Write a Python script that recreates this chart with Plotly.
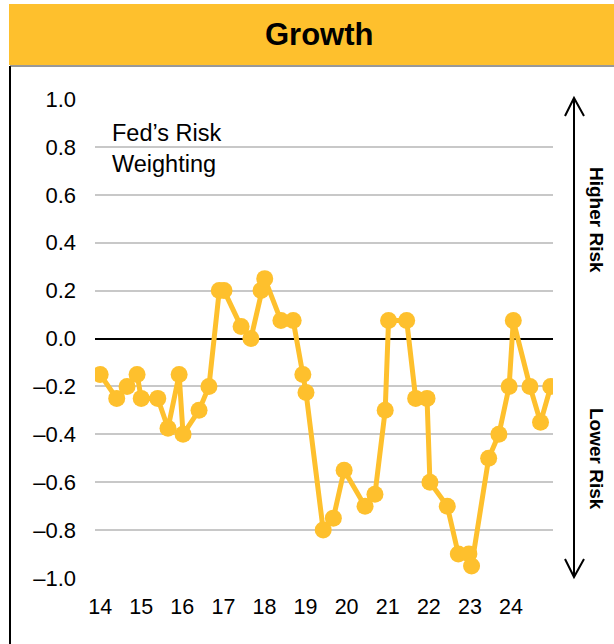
import plotly.graph_objects as go

# Fed's risk weighting on growth, by meeting date
dates = [
    "2014-01-01", "2014-05-28", "2014-08-28", "2014-11-25", "2015-01-01",
    "2015-05-28", "2015-08-27", "2015-12-04", "2016-01-08", "2016-05-29",
    "2016-08-25", "2016-11-25", "2017-01-06", "2017-06-07", "2017-09-02",
    "2017-12-01", "2018-01-03", "2018-05-27", "2018-09-13", "2018-12-08",
    "2019-01-05", "2019-06-07", "2019-09-05", "2019-12-10", "2020-06-13",
    "2020-09-09", "2020-12-09", "2021-01-08", "2021-06-18", "2021-09-06",
    "2021-12-16", "2022-01-11", "2022-06-14", "2022-09-20", "2022-12-23",
    "2023-01-16", "2023-06-17", "2023-09-16", "2023-12-16", "2024-01-22",
    "2024-06-18", "2024-09-20", "2024-12-20",
]
risk_weighting = [
    -0.15, -0.25, -0.20, -0.15, -0.25,
    -0.25, -0.375, -0.15, -0.40, -0.30,
    -0.20, 0.20, 0.20, 0.05, 0.00,
    0.20, 0.25, 0.075, 0.075, -0.15,
    -0.225, -0.80, -0.75, -0.55, -0.70,
    -0.65, -0.30, 0.075, 0.075, -0.25,
    -0.25, -0.60, -0.70, -0.90, -0.90,
    -0.95, -0.50, -0.40, -0.20, 0.075,
    -0.20, -0.35, -0.20,
]
year_ticks = [f"{y}-01-01" for y in range(2014, 2025)]
year_labels = [str(y)[2:] for y in range(2014, 2025)]
y_ticks = [-1.0, -0.8, -0.6, -0.4, -0.2, 0.0, 0.2, 0.4, 0.6, 0.8, 1.0]
# en dash for negatives, one decimal place
y_labels = [f"{v:.1f}".replace("-", "–") for v in y_ticks]

GOLD = "#FEC02D"
FONT = "Liberation Sans, Arial, sans-serif"

W, H = 614, 644
L, R, T, B = 95, 61, 99, 66
PW, PH = W - L - R, H - T - B


def px(x):
    return (x - L) / PW


def py(y):
    return (H - B - y) / PH


fig = go.Figure()
fig.add_trace(go.Scatter(
    x=dates, y=risk_weighting, mode="lines+markers",
    line=dict(color=GOLD, width=5),
    marker=dict(color=GOLD, size=17),
    hoverinfo="x+y", showlegend=False,
))

shapes = [
    # header band
    dict(type="rect", xref="paper", yref="paper", x0=px(9), x1=px(614),
         y0=py(65), y1=py(4), fillcolor=GOLD, line=dict(width=0), layer="below"),
    # frame lines
    dict(type="line", xref="paper", yref="paper", x0=px(10), x1=px(10),
         y0=py(66), y1=py(644), line=dict(color="black", width=2)),
    dict(type="line", xref="paper", yref="paper", x0=px(10), x1=px(614),
         y0=py(66), y1=py(66), line=dict(color="#333333", width=1)),
    # double-headed risk arrow
    dict(type="line", xref="paper", yref="paper", x0=px(574), x1=px(574),
         y0=py(98), y1=py(577), line=dict(color="black", width=2)),
    dict(type="path", xref="paper", yref="paper",
         path=f"M {px(565)},{py(116)} L {px(574)},{py(98)} L {px(584)},{py(116)}",
         line=dict(color="black", width=2)),
    dict(type="path", xref="paper", yref="paper",
         path=f"M {px(565)},{py(559)} L {px(574)},{py(577)} L {px(584)},{py(559)}",
         line=dict(color="black", width=2)),
]

annotations = [
    dict(text="<b>Growth</b>", xref="paper", yref="paper", x=px(319), y=py(35),
         xanchor="center", yanchor="middle", showarrow=False,
         font=dict(size=31, color="black", family=FONT)),
    dict(text="Fed’s Risk<br>Weighting", xref="paper", yref="paper",
         x=px(110), y=py(118), xanchor="left", yanchor="top", align="left",
         showarrow=False, font=dict(size=23.5, color="black", family=FONT)),
    dict(text="<b>Higher Risk</b>", xref="paper", yref="paper", x=px(597), y=py(220),
         xanchor="center", yanchor="middle", textangle=90, showarrow=False,
         font=dict(size=19, color="black", family=FONT)),
    dict(text="<b>Lower Risk</b>", xref="paper", yref="paper", x=px(597), y=py(459),
         xanchor="center", yanchor="middle", textangle=90, showarrow=False,
         font=dict(size=19, color="black", family=FONT)),
]

fig.update_layout(
    width=W, height=H,
    margin=dict(l=L, r=R, t=T, b=B, pad=0),
    paper_bgcolor="white", plot_bgcolor="white",
    font=dict(family=FONT, size=22, color="black"),
    shapes=shapes, annotations=annotations,
    xaxis=dict(
        type="date", range=["2013-11-16", "2025-01-09"],
        tickvals=year_ticks, ticktext=year_labels,
        showgrid=False, zeroline=False, showline=False, ticks="",
        tickfont=dict(size=21.5), ticklabelstandoff=13,
    ),
    yaxis=dict(
        range=[-1.0, 1.0], tickvals=y_ticks, ticktext=y_labels,
        showgrid=True, gridcolor="#C8C8C8", gridwidth=2,
        zeroline=True, zerolinecolor="black", zerolinewidth=2,
        showline=False, ticks="", tickfont=dict(size=22), ticklabelstandoff=18,
    ),
)

fig.write_html("out.html")
